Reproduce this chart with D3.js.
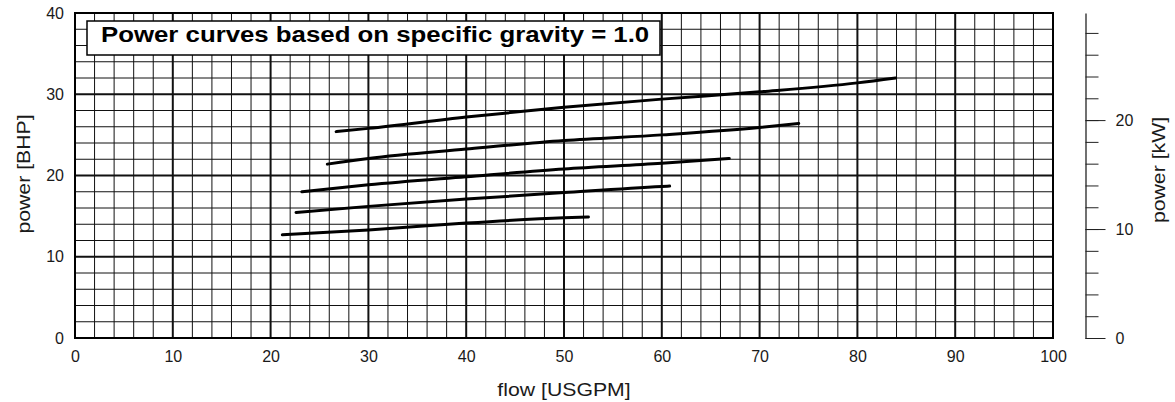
<!DOCTYPE html>
<html>
<head>
<meta charset="utf-8">
<script src="https://cdn.jsdelivr.net/npm/d3@7"></script>
<style>
  body { margin: 0; background: #fff; }
  #chart { width: 1175px; height: 402px; }
  text { font-family: "Liberation Sans", Arial, sans-serif; fill: #1a1a1a; }
  .tick text { font-size: 16px; }
  .axisLabel { font-size: 18px; }
</style>
</head>
<body>
<div id="chart"></div>
<script>
// chart values
const flowTicks = [0, 10, 20, 30, 40, 50, 60, 70, 80, 90, 100];
const bhpTicks = [0, 10, 20, 30, 40];
const kwTicks = [0, 10, 20];

// five power curves (flow in USGPM, power in BHP)
const flow1 = [26.7, 30, 40, 50, 60, 70, 80, 83.9];
const power1 = [25.4, 25.8, 27.2, 28.4, 29.4, 30.3, 31.4, 32.0];
const flow2 = [25.8, 30, 40, 50, 60, 70, 74.0];
const power2 = [21.4, 22.1, 23.25, 24.3, 25.0, 25.9, 26.4];
const flow3 = [23.2, 30, 40, 50, 60, 66.9];
const power3 = [18.0, 18.85, 19.85, 20.8, 21.5, 22.1];
const flow4 = [22.6, 30, 40, 50, 60, 60.8];
const power4 = [15.45, 16.2, 17.1, 17.9, 18.65, 18.7];
const flow5 = [21.2, 30, 40, 50, 52.5];
const power5 = [12.7, 13.3, 14.15, 14.8, 14.9];

const curves = [[flow1, power1], [flow2, power2], [flow3, power3], [flow4, power4], [flow5, power5]];

const width = 1175;
const height = 402;
const margin = { top: 13, left: 75, right: 122, bottom: 64 };

const svg = d3.select("#chart")
    .append("svg")
    .attr("width", width)
    .attr("height", height);

const xScale = d3.scaleLinear()
    .domain([0, 100])
    .range([margin.left, width - margin.right]);

const yScale = d3.scaleLinear()
    .domain([0, 40])
    .range([height - margin.bottom, margin.top]);

// 1 BHP = 0.7457 kW
const kwScale = d3.scaleLinear()
    .domain([0, 40 * 0.7457])
    .range([height - margin.bottom, margin.top]);

//grid: minor lines every 2, major every 10
const grid = svg.append("g");
grid.selectAll(".vminor")
    .data(d3.range(2, 100, 2))
    .enter()
    .append("line")
    .attr("x1", d => xScale(d)).attr("x2", d => xScale(d))
    .attr("y1", yScale(0)).attr("y2", yScale(40))
    .attr("stroke", "#111")
    .attr("stroke-width", d => d % 10 == 0 ? 2 : 1);

grid.selectAll(".hminor")
    .data(d3.range(2, 40, 2))
    .enter()
    .append("line")
    .attr("y1", d => yScale(d)).attr("y2", d => yScale(d))
    .attr("x1", xScale(0)).attr("x2", xScale(100))
    .attr("stroke", "#111")
    .attr("stroke-width", d => d % 10 == 0 ? 2 : 1);

svg.append("rect")
    .attr("x", xScale(0))
    .attr("y", yScale(40))
    .attr("width", xScale(100) - xScale(0))
    .attr("height", yScale(0) - yScale(40))
    .attr("fill", "none")
    .attr("stroke", "#000")
    .attr("stroke-width", 2);

//title box
svg.append("rect")
    .attr("x", 87)
    .attr("y", 21)
    .attr("width", 573)
    .attr("height", 34)
    .attr("fill", "#fff")
    .attr("stroke", "#000")
    .attr("stroke-width", 1.5);

// the source picture is stretched sideways, so the texts are too
svg.append("text")
    .attr("transform", "translate(101,42) scale(1.2,1)")
    .style("font-size", "21.5px")
    .style("font-weight", "bold")
    .style("fill", "#000")
    .text("Power curves based on specific gravity = 1.0");

//curves
const line = d3.line()
    .x(d => xScale(d[0]))
    .y(d => yScale(d[1]))
    .curve(d3.curveMonotoneX);

svg.selectAll(".curve")
    .data(curves)
    .enter()
    .append("path")
    .attr("class", "curve")
    .attr("d", c => line(c[0].map((f, i) => [f, c[1][i]])))
    .attr("fill", "none")
    .attr("stroke", "#000")
    .attr("stroke-width", 3)
    .attr("stroke-linecap", "round");

//axes
const xAxis = svg.append("g")
    .attr("transform", `translate(0,${yScale(0)})`)
    .call(d3.axisBottom(xScale).tickValues(flowTicks).tickSize(0).tickPadding(13));
xAxis.select(".domain").remove();

const yAxis = svg.append("g")
    .attr("transform", `translate(${xScale(0)},0)`)
    .call(d3.axisLeft(yScale).tickValues(bhpTicks).tickSize(0).tickPadding(11));
yAxis.select(".domain").remove();

const kwX = 1085.5;
const kwMinor = svg.append("g")
    .attr("transform", `translate(${kwX},0)`)
    .call(d3.axisRight(kwScale).tickValues(d3.range(0, 30, 2)).tickSize(13).tickSizeOuter(0).tickFormat(""));
kwMinor.selectAll("line").attr("stroke", "#222");
kwMinor.select(".domain").attr("stroke", "#111").attr("stroke-width", 1.2);

const kwMajor = svg.append("g")
    .attr("transform", `translate(${kwX},0)`)
    .call(d3.axisRight(kwScale).tickValues(kwTicks).tickSize(20).tickPadding(10));
kwMajor.select(".domain").remove();
kwMajor.selectAll("line").attr("stroke", "#222");

svg.selectAll(".tick text").style("fill", "#1a1a1a");

//axis labels
svg.append("text")
    .attr("class", "axisLabel")
    .attr("transform", "translate(564,396) scale(1.18,1)")
    .attr("text-anchor", "middle")
    .text("flow [USGPM]");

svg.append("text")
    .attr("class", "axisLabel")
    .attr("transform", "translate(30,174) rotate(-90) scale(1.18,1)")
    .attr("text-anchor", "middle")
    .text("power [BHP]");

svg.append("text")
    .attr("class", "axisLabel")
    .attr("transform", "translate(1165,170) rotate(-90) scale(1.18,1)")
    .attr("text-anchor", "middle")
    .text("power [kW]");
</script>
</body>
</html>
